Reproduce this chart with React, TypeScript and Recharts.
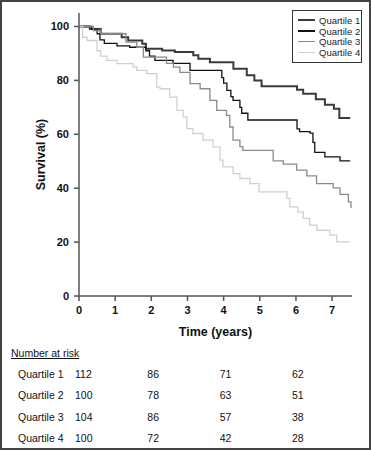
import React from 'react';
import { LineChart, Line, XAxis, YAxis } from 'recharts';

// Kaplan-Meier steps: [time (years), survival %]
const quartile1: [number, number][] = [
  [0, 100], [0.3, 99.1], [0.6, 97.3], [1.18, 96], [1.36, 94.8], [1.75, 93.6], [1.85, 91.7],
  [2.3, 91.1], [2.65, 90.5], [3.16, 89.3], [3.3, 88], [3.62, 86.7], [4.27, 84.3], [4.64, 81.9],
  [4.85, 80], [5.05, 77.8], [6.03, 76.5], [6.2, 75], [6.55, 73], [6.8, 71], [7.05, 69.5],
  [7.2, 66], [7.5, 66],
];
const quartile2: [number, number][] = [
  [0, 100], [0.35, 99], [0.5, 97.3], [0.58, 95], [0.7, 93.7], [1.05, 92.8], [1.4, 92.3],
  [1.85, 91], [1.95, 89], [2.1, 87.4], [2.6, 86.3], [3.07, 83.7], [3.95, 81], [4.0, 79],
  [4.09, 76.3], [4.2, 74], [4.26, 72.6], [4.45, 70], [4.5, 67.8], [4.67, 65.3], [6.03, 62],
  [6.1, 61], [6.39, 60.4], [6.47, 57], [6.52, 53.3], [6.8, 51.6], [7.22, 50.1], [7.5, 50.1],
];
const quartile3: [number, number][] = [
  [0, 100], [0.4, 98.5], [0.6, 97.3], [1.3, 94.2], [1.6, 92.3], [1.78, 88.6], [2.42, 86.3],
  [2.61, 84.9], [2.79, 83], [3.07, 78.8], [3.35, 76.9], [3.62, 72.6], [3.81, 68.9], [4.08, 67],
  [4.17, 62.7], [4.26, 57.8], [4.45, 55.4], [4.53, 54], [5.37, 50.1], [5.65, 48.9], [6.02, 46.7],
  [6.3, 44.6], [6.57, 41.7], [7.03, 40.1], [7.22, 37.7], [7.45, 34.9], [7.52, 33], [7.55, 33],
];
const quartile4: [number, number][] = [
  [0, 100], [0.1, 96], [0.22, 94.8], [0.5, 91], [0.6, 89], [0.77, 87.4], [1.05, 86.2],
  [1.5, 84.9], [1.6, 83.7], [1.88, 82.5], [2.15, 77.5], [2.24, 76.9], [2.51, 73.8], [2.71, 68.9],
  [2.88, 66.4], [2.98, 62.1], [3.15, 60.3], [3.43, 57.8], [3.71, 55.3], [3.9, 50.4], [3.98, 47.9],
  [4.26, 45.4], [4.45, 43.6], [4.73, 41.7], [4.98, 38.6], [5.75, 36.2], [5.83, 33.1], [6.05, 31.2],
  [6.2, 28.8], [6.38, 26.3], [6.58, 24.4], [6.94, 22.6], [7.13, 20.1], [7.5, 20.1],
];

const seriesNames = ['Quartile 1', 'Quartile 2', 'Quartile 3', 'Quartile 4'];
const xTicks = [0, 1, 2, 3, 4, 5, 6, 7];
const yTicks = [0, 20, 40, 60, 80, 100];

// number at risk at years 0, 2, 4, 6
const riskTimes = [0, 2, 4, 6];
const riskQ1 = [112, 86, 71, 62];
const riskQ2 = [100, 78, 63, 51];
const riskQ3 = [104, 86, 57, 38];
const riskQ4 = [100, 72, 42, 28];

const toRows = (pts: [number, number][]) => pts.map(([t, s]) => ({ t, s }));

const styles = [
  { stroke: '#3a3a3a', width: 2 },
  { stroke: '#111111', width: 1.3 },
  { stroke: '#8a8a8a', width: 1.3 },
  { stroke: '#d0d0d0', width: 1.3 },
];

const font = '"Liberation Sans", Arial, sans-serif';

const LegendBox = () => (
  <div
    style={{
      position: 'absolute',
      left: 290,
      top: 8,
      border: '1px solid #333',
      background: '#fff',
      width: 70,
      height: 53,
      boxSizing: 'border-box',
      padding: '4px 0 0 5px',
    }}
  >
    {seriesNames.map((name, i) => (
      <div key={name} style={{ display: 'flex', alignItems: 'center', height: 10.7, whiteSpace: 'nowrap' }}>
        <div style={{ width: 17, height: styles[i].width, background: styles[i].stroke, marginRight: 4, flexShrink: 0 }} />
        <span style={{ fontSize: 9.5, fontFamily: font, color: '#222' }}>{name}</span>
      </div>
    ))}
  </div>
);

const App: React.FC = () => {
  const seriesData = [quartile1, quartile2, quartile3, quartile4].map(toRows);
  const riskRows = [riskQ1, riskQ2, riskQ3, riskQ4];
  // x pixel of a time value, same scale as the chart (plot 79..352 over 0..7.55)
  const xOf = (t: number) => 77 + (t / 7.55) * 273;

  return (
    <div
      style={{
        position: 'absolute',
        left: 0,
        top: 0,
        width: 371,
        height: 450,
        border: '2px solid #444',
        boxSizing: 'border-box',
        background: '#fff',
        fontFamily: font,
      }}
    >
      <div style={{ position: 'absolute', left: -2, top: -2 }}>
        <LineChart width={371} height={345} margin={{ top: 13, right: 19, left: 0, bottom: 0 }}>
          <XAxis
            type="number"
            dataKey="t"
            domain={[0, 7.55]}
            ticks={xTicks}
            allowDataOverflow
            height={49}
            tickSize={5}
            tickMargin={5}
            stroke="#555"
            strokeWidth={1.5}
            tick={{ fill: '#111', fontSize: 11, fontWeight: 'bold', fontFamily: font }}
            label={{
              value: 'Time (years)',
              position: 'insideBottom',
              offset: 9,
              style: { fill: '#111', fontSize: 12.5, fontWeight: 'bold', fontFamily: font },
            }}
          />
          <YAxis
            type="number"
            domain={[0, 105]}
            ticks={yTicks}
            allowDataOverflow
            width={79}
            tickSize={5}
            tickMargin={5}
            stroke="#555"
            strokeWidth={1.5}
            tick={{ fill: '#111', fontSize: 11, fontWeight: 'bold', fontFamily: font }}
            label={{
              value: 'Survival (%)',
              angle: -90,
              position: 'insideLeft',
              offset: 41,
              textAnchor: 'middle',
              style: { fill: '#111', fontSize: 12.5, fontWeight: 'bold', fontFamily: font, textAnchor: 'middle' },
            }}
          />
          {seriesData.map((d, i) => (
            <Line
              key={seriesNames[i]}
              data={d}
              dataKey="s"
              name={seriesNames[i]}
              type="stepAfter"
              stroke={styles[i].stroke}
              strokeWidth={styles[i].width}
              dot={false}
              isAnimationActive={false}
            />
          ))}
        </LineChart>
      </div>

      <LegendBox />

      <div
        style={{
          position: 'absolute',
          left: 9,
          top: 345,
          fontSize: 10.5,
          textDecoration: 'underline',
          color: '#111',
        }}
      >
        Number at risk
      </div>
      {riskRows.map((row, r) => (
        <React.Fragment key={seriesNames[r]}>
          <div style={{ position: 'absolute', left: 16, top: 366 + r * 21.3, fontSize: 10.5, color: '#111' }}>
            {seriesNames[r]}
          </div>
          {row.map((n, c) => (
            <div
              key={c}
              style={{ position: 'absolute', left: xOf(riskTimes[c]) - 4, top: 366 + r * 21.3, fontSize: 10.5, color: '#111' }}
            >
              {n}
            </div>
          ))}
        </React.Fragment>
      ))}
    </div>
  );
};

export default App;
